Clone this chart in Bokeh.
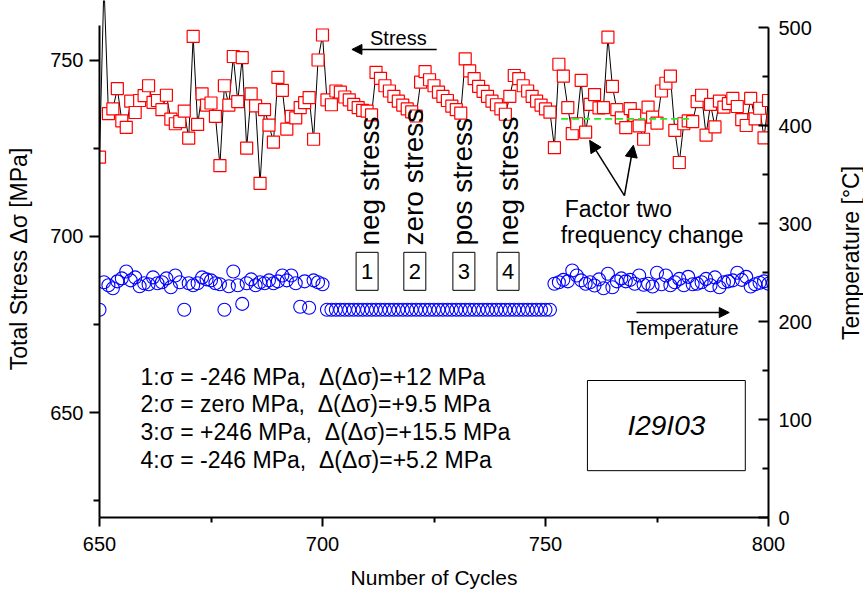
from math import pi

from bokeh.plotting import figure
from bokeh.layouts import row
from bokeh.models import (LinearAxis, Range1d, FixedTicker, Arrow, NormalHead,
                          Label, BoxAnnotation, ColumnDataSource)
from bokeh.embed import file_html
from bokeh.resources import INLINE

# ---- data -----------------------------------------------------------------
cycles = list(range(650, 802))

stress = [
    722.5, 772.0, 734.9, 736.2, 742.0, 732.8, 731.0, 738.4, 735.2, 738.6,
    740.0, 742.8, 738.1, 738.6, 736.0, 740.1, 733.3, 732.0, 732.6, 735.6,
    727.9, 756.8, 731.8, 740.5, 737.3, 737.9, 734.1, 720.1, 742.8, 737.3,
    751.1, 738.3, 750.8, 725.1, 740.5, 737.1, 715.1, 736.0, 731.6, 726.8,
    745.2, 741.5, 730.5, 734.1, 733.7, 736.6, 738.0, 739.4, 727.6, 750.1,
    757.2, 738.8, 737.4, 741.3, 741.0, 739.6, 738.8, 737.5, 736.6, 735.8,
    735.6, 734.5, 746.6, 744.9, 742.8, 741.3, 739.8, 738.4, 737.3, 736.2,
    735.4, 734.2, 743.8, 746.8, 744.5, 742.8, 741.0, 739.8, 738.6, 737.0,
    736.0, 735.0, 750.4, 747.0, 744.8, 742.6, 741.2, 739.8, 738.4, 737.4,
    736.2, 734.7, 739.8, 745.7, 744.8, 742.8, 741.3, 739.8, 738.4, 737.3,
    736.2, 735.3, 725.2, 748.9, 745.5, 736.6, 729.2, 732.0, 744.3, 729.6,
    737.5, 740.3, 736.5, 736.6, 756.6, 742.6, 736.0, 733.7, 730.9, 736.3,
    734.4, 731.4, 727.6, 736.7, 733.9, 732.2, 741.3, 743.5, 745.5, 730.1,
    721.0, 732.0, 732.8, 732.6, 738.3, 740.1, 728.8, 737.5, 731.1, 738.4,
    736.7, 737.7, 739.2, 736.9, 733.2, 731.5, 739.2, 733.4, 736.4, 728.0,
    738.6, 733.0,
]

temp_before = [
    212, 240, 237, 234, 241, 244, 251, 242, 245, 236,
    239, 238, 245, 239, 240, 244, 235, 247, 240, 212,
    239, 237, 239, 245, 243, 242, 239, 238, 212, 236,
    251, 237, 218, 239, 243, 237, 240, 239, 242, 239,
    241, 247, 242, 247, 239, 215, 241, 214, 242, 240,
    238,
]
temp_hold = [212] * 51
temp_after = [
    238.5, 240, 242.5, 241, 252, 247, 242, 238.5, 240, 236.7,
    243, 234, 248.7, 235, 241, 244, 241, 242.5, 238.5, 247,
    237.5, 238.5, 235.7, 249.7, 238, 247, 237, 240, 243.5, 237,
    245.6, 238, 238.5, 240, 243.5, 237, 245, 235, 240, 241,
    242, 249.7, 242.5, 245.6, 235.7, 238, 239.5, 241, 238.5, 239.5,
]
temperature = temp_before + temp_hold + temp_after

x_ticks = [650, 700, 750, 800]
stress_ticks = [650, 700, 750]
temp_ticks = [0, 100, 200, 300, 400, 500]

block_cycles = [710.0, 720.7, 731.7, 741.6]
block_numbers = ["1", "2", "3", "4"]
block_modes = ["neg stress", "zero stress", "pos stress", "neg stress"]
mode_cycles = [710.6, 720.5, 731.3, 741.8]

GAP = ",\u00a0\u00a0"
legend_lines = [
    "1:\u03c3 = -246 MPa" + GAP + "\u0394(\u0394\u03c3)=+12 MPa",
    "2:\u03c3 = zero MPa" + GAP + "\u0394(\u0394\u03c3)=+9.5 MPa",
    "3:\u03c3 = +246 MPa" + GAP + "\u0394(\u0394\u03c3)=+15.5 MPa",
    "4:\u03c3 = -246 MPa" + GAP + "\u0394(\u0394\u03c3)=+5.2 MPa",
]
legend_levels = [660.2, 652.3, 644.6, 636.6]

freq_cycles = [753.5, 782.6]
freq_level = 733.4

FONT = "Liberation Sans"
HEIGHT = 596

# ---- main figure ----------------------------------------------------------
p = figure(width=835, height=HEIGHT, output_backend="svg",
           toolbar_location=None,
           x_range=Range1d(650, 800), y_range=Range1d(620.2, 767.0),
           min_border_left=99, min_border_right=67, min_border_top=0,
           min_border_bottom=79)
p.extra_y_ranges = {"temp": Range1d(0, 527.6)}
p.grid.visible = False
p.outline_line_color = None
p.background_fill_color = "white"
p.border_fill_color = "white"


def style_axis(ax, label, label_size):
    ax.axis_label = label
    ax.axis_label_text_font = FONT
    ax.axis_label_text_font_size = label_size
    ax.axis_label_text_font_style = "normal"
    ax.axis_label_text_color = "black"
    ax.major_label_text_font = FONT
    ax.major_label_text_font_size = "20px"
    ax.major_label_text_color = "black"
    ax.axis_line_width = 2
    ax.axis_line_color = "black"
    ax.major_tick_line_width = 2
    ax.minor_tick_line_width = 2
    ax.major_tick_line_color = "black"
    ax.minor_tick_line_color = "black"


# bottom axis
xa = p.xaxis[0]
style_axis(xa, "Number of Cycles", "21px")
xa.ticker = FixedTicker(ticks=x_ticks, minor_ticks=[675, 725, 775])
xa.major_tick_in = 0
xa.major_tick_out = 9
xa.minor_tick_in = 0
xa.minor_tick_out = 5
xa.major_label_standoff = 10
xa.axis_label_standoff = 12

# left axis
ya = p.yaxis[0]
style_axis(ya, "Total Stress \u0394\u03c3 [MPa]", "23px")
ya.ticker = FixedTicker(ticks=stress_ticks, minor_ticks=[625, 675, 725])
ya.bounds = (620, 760)
ya.major_tick_in = 0
ya.major_tick_out = 10
ya.minor_tick_in = 0
ya.minor_tick_out = 6
ya.major_label_standoff = 6
ya.axis_label_standoff = 15

# right axis (temperature); its title sits in the strip beside the plot
ra = LinearAxis(y_range_name="temp")
style_axis(ra, "", "23px")
ra.ticker = FixedTicker(ticks=temp_ticks,
                        minor_ticks=[50, 150, 250, 350, 450])
ra.bounds = (0, 500)
ra.major_tick_in = 10
ra.major_tick_out = 0
ra.minor_tick_in = 6
ra.minor_tick_out = 0
ra.major_label_standoff = 10
p.add_layout(ra, "right")

# ---- series ---------------------------------------------------------------
src_s = ColumnDataSource(dict(x=cycles, y=stress))
src_t = ColumnDataSource(dict(x=cycles, y=temperature))

p.line("x", "y", source=src_s, line_color="black", line_width=1)
p.scatter("x", "y", source=src_s, marker="square", size=12,
          line_color="#ff0000", line_width=1.2, fill_color="white")
p.scatter("x", "y", source=src_t, marker="circle", size=13,
          line_color="#0000ff", line_width=1.1, fill_color=None,
          y_range_name="temp")

# frequency change level
p.line(freq_cycles, [freq_level, freq_level], line_color="#22ee22",
       line_width=1.8, line_dash="7 4")

# ---- annotations ----------------------------------------------------------
def label(fig, x, y, text, size="20px", align="center", baseline="middle",
          angle=0.0, style="normal"):
    fig.add_layout(Label(x=x, y=y, text=text, text_font=FONT,
                         text_font_size=size, text_align=align,
                         text_baseline=baseline, angle=angle,
                         text_font_style=style, text_color="black"))


# stress / temperature direction arrows
label(p, 717.0, 756.3, "Stress")
p.add_layout(Arrow(x_start=725.6, y_start=753.1, x_end=706.6, y_end=753.1,
                   line_width=1.5,
                   end=NormalHead(size=10, fill_color="black",
                                  line_color="black")))
label(p, 780.7, 674.1, "Temperature")
p.add_layout(Arrow(x_start=770.4, y_start=678.4, x_end=791.2, y_end=678.4,
                   line_width=1.5,
                   end=NormalHead(size=10, fill_color="black",
                                  line_color="black")))

# loading blocks
for xc, mode in zip(mode_cycles, block_modes):
    label(p, xc, 697.4, mode, size="28px", align="left", angle=pi / 2)

p.rect(x=block_cycles, y=[690.1] * 4, width=22, height=38,
       width_units="screen", height_units="screen",
       fill_color="white", line_color="black", line_width=1)
for xc, num in zip(block_cycles, block_numbers):
    label(p, xc, 690.1, num, size="22px")

# frequency change note
label(p, 754.3, 707.7, "Factor two", size="23px", align="left")
label(p, 753.4, 700.3, "frequency change", size="23px", align="left")
for xe, ye in [(759.9, 727.3), (769.7, 725.9)]:
    p.add_layout(Arrow(x_start=767.7, y_start=711.6, x_end=xe, y_end=ye,
                       line_width=1.5,
                       end=NormalHead(size=12, fill_color="black",
                                      line_color="black")))

# block summary
for txt, lv in zip(legend_lines, legend_levels):
    label(p, 659.2, lv, txt, size="23px", align="left")

# specimen id
p.add_layout(BoxAnnotation(left=759.4, right=794.8, bottom=633.5, top=659.1,
                           fill_color=None, fill_alpha=0, line_color="black",
                           line_alpha=1.0, line_width=1))
label(p, 777.1, 646.3, "I29I03", size="28px", style="italic")

# ---- strip holding the temperature axis title -----------------------------
q = figure(width=28, height=HEIGHT, output_backend="svg",
           toolbar_location=None, x_range=Range1d(0, 28),
           y_range=Range1d(0, HEIGHT), min_border=0)
q.axis.visible = False
q.grid.visible = False
q.outline_line_color = None
q.background_fill_color = "white"
q.border_fill_color = "white"
label(q, 15, HEIGHT - 291, "Temperature [\u00b0C]", size="23px",
      angle=pi / 2)

layout = row(p, q, spacing=0)
open("out.html", "w").write(file_html(layout, INLINE))
